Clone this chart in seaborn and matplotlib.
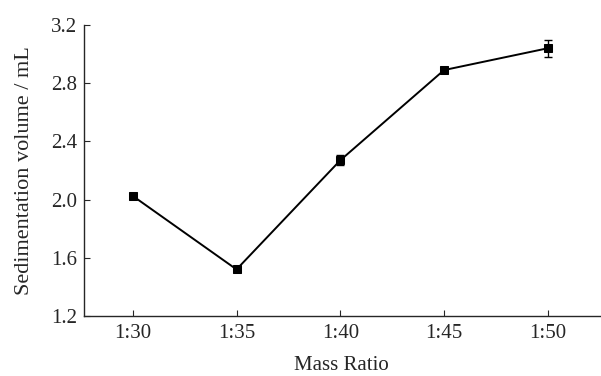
import matplotlib
matplotlib.use("Agg")
import matplotlib.pyplot as plt
import seaborn as sns
import pandas as pd

ratios = ["1:30", "1:35", "1:40", "1:45", "1:50"]
volumes = [2.025, 1.52, 2.27, 2.89, 3.04]
errors = [0.015, 0.02, 0.035, 0.015, 0.06]
y_ticks = [1.2, 1.6, 2.0, 2.4, 2.8, 3.2]

df = pd.DataFrame({"Mass Ratio": ratios, "Volume": volumes, "Err": errors})
df["pos"] = range(len(df))

sns.set_style("ticks")
plt.rcParams["font.family"] = ["Liberation Serif", "DejaVu Serif"]

fig = plt.figure(figsize=(6.01, 3.76), dpi=100)
ax = fig.add_axes([0.1398, 0.1596, 0.858, 0.774])

ax.errorbar(df["pos"], df["Volume"], yerr=df["Err"], fmt="none",
            ecolor="black", elinewidth=1.0, capsize=3, capthick=1.0, zorder=2)
sns.lineplot(data=df, x="pos", y="Volume", color="black", linewidth=1.4,
             marker="s", markersize=6, markeredgecolor="black", ax=ax, zorder=3)

ax.set_xlim(-0.47, 4.5)
ax.set_ylim(1.2, 3.2)
ax.set_xticks(df["pos"])
ax.set_xticklabels(ratios)
ax.set_yticks(y_ticks)
ax.set_yticklabels([f"{v:.1f}" for v in y_ticks])
ax.tick_params(axis="x", direction="in", length=4.5, width=0.8, labelsize=15, pad=6)
ax.tick_params(axis="y", direction="in", length=4.5, width=0.8, labelsize=15, pad=5)
sns.despine(ax=ax)
for s in ["left", "bottom"]:
    ax.spines[s].set_linewidth(1.0)

ax.set_xlabel("Mass Ratio", fontsize=15, labelpad=9)
ax.set_ylabel("Sedimentation volume / mL", fontsize=16, labelpad=12)

plt.savefig("out.png", dpi=100)
